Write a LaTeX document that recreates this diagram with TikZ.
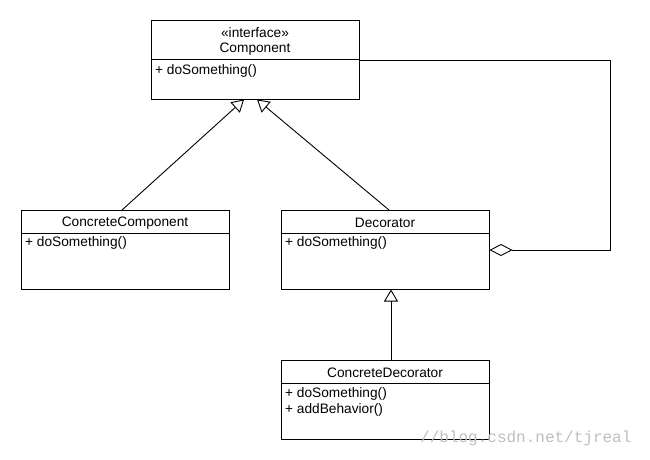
\documentclass[tikz,border=0pt]{standalone}
\usepackage{fontspec}
\setmainfont{Liberation Sans}
\newfontfamily\wmfont{Liberation Mono}
\usetikzlibrary{arrows.meta}
\begin{document}
\begin{tikzpicture}[x=1pt,y=-1pt,
  cls/.style={draw=black, line width=0.9pt, fill=white, inner sep=0pt, minimum width=208pt, minimum height=79pt},
  txt/.style={inner sep=0pt, font=\fontsize{13.7}{15}\selectfont, anchor=center},
  meth/.style={inner sep=0pt, font=\fontsize{13.7}{15}\selectfont, anchor=west},
  ln/.style={draw=black, line width=0.9pt},
  gen/.style={ln, {Triangle[open, length=12pt, width=14pt, line width=0.9pt]}-},
  agg/.style={ln, {Diamond[open, length=23pt, width=12pt, line width=0.9pt]}-}
]
\useasboundingbox[fill=white] (0,0) rectangle (650,460);

% Component
\node[cls] (comp) at (255,59.5) {};
\draw[ln] (151,59) -- (359,59);
\node[txt] (compst) at (255,33) {«interface»};
\node[txt] (compname) at (255,49) {Component};
\node[meth] (compm) at (155,71) {+ doSomething()};

% ConcreteComponent
\node[cls] (cc) at (125,249.5) {};
\draw[ln] (21,233) -- (229,233);
\node[txt] (ccname) at (125,223) {ConcreteComponent};
\node[meth] (ccm) at (25,243) {+ doSomething()};

% Decorator
\node[cls] (dec) at (385,249.5) {};
\draw[ln] (281,233) -- (489,233);
\node[txt] (decname) at (385,223) {Decorator};
\node[meth] (decm) at (285,243) {+ doSomething()};

% ConcreteDecorator
\node[cls] (cd) at (385,399.5) {};
\draw[ln] (281,383) -- (489,383);
\node[txt] (cdname) at (385,373) {ConcreteDecorator};
\node[meth] (cdm1) at (285,394) {+ doSomething()};
\node[meth] (cdm2) at (285,410) {+ addBehavior()};

% connector points
\coordinate (g1) at (244,99.5);
\coordinate (g2) at (257,99.5);
\coordinate (ccT) at (122,210);
\coordinate (decT) at (389,210);
\coordinate (g3) at (391,289.5);
\coordinate (cdT) at (391,360);
\coordinate (aggS) at (489.5,250);
\coordinate (aggA) at (610,250);
\coordinate (aggB) at (610,60);
\coordinate (compR) at (359,60);

\draw[gen] (g1) -- (ccT);
\draw[gen] (g2) -- (decT);
\draw[gen] (g3) -- (cdT);
\draw[agg] (aggS) -- (aggA) -- (aggB) -- (compR);

% watermark
\node[inner sep=0pt, anchor=west, text=black!25, font=\wmfont\fontsize{16}{18}\selectfont] (wm) at (420,438) {//blog.csdn.net/tjreal};
\end{tikzpicture}
\end{document}
